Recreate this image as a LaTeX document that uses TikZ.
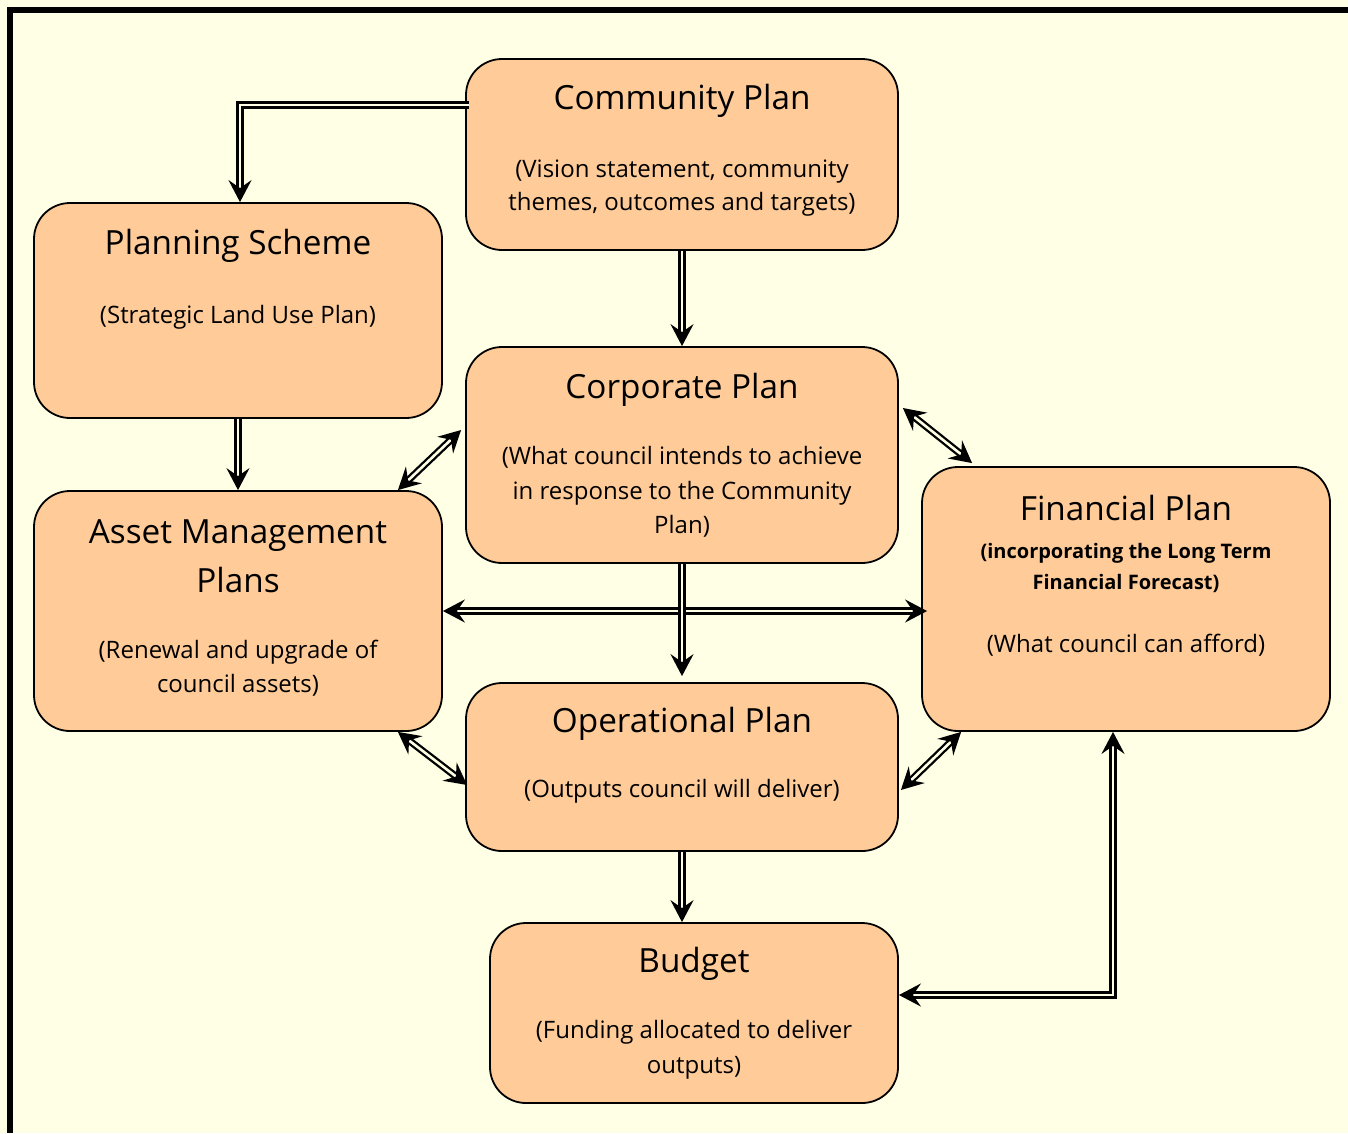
\documentclass[tikz,border=0pt]{standalone}
\usepackage{fontspec}
\setmainfont{Open Sans}
\usetikzlibrary{arrows.meta}
\definecolor{bgY}{RGB}{255,255,230}
\definecolor{boxF}{RGB}{255,204,153}
\begin{document}
\begin{tikzpicture}[x=1pt,y=-1pt,
  box/.style={draw=black,line width=1.8pt,fill=boxF,rounded corners=36pt,inner sep=0pt},
  ttl/.style={anchor=base,inner sep=0pt,font=\fontsize{33.3}{38}\selectfont},
  sub/.style={anchor=base,inner sep=0pt,font=\fontsize{24}{28}\selectfont},
  bsub/.style={anchor=base,inner sep=0pt,font=\fontsize{20}{24}\selectfont\bfseries},
  conn/.style={line width=2.3pt,double=bgY,double distance=2.6pt},
  tip/.style={-{Stealth[length=22pt,width=23pt,inset=8pt]}},
  tips/.style={{Stealth[length=22pt,width=23pt,inset=8pt]}-{Stealth[length=22pt,width=23pt,inset=8pt]}}
]
\fill[bgY] (0,0) rectangle (1348,1133);
\useasboundingbox (0,0) rectangle (1348,1133);
\draw[line width=6pt] (10,1133) -- (10,10) -- (1348,10);

% boxes
\node[box,minimum width=432pt,minimum height=191pt] (cp) at (682,154.5) {};
\node[box,minimum width=408pt,minimum height=215pt] (ps) at (238,310.5) {};
\node[box,minimum width=432pt,minimum height=216pt] (crp) at (682,455) {};
\node[box,minimum width=408pt,minimum height=240pt] (am) at (238,611) {};
\node[box,minimum width=408pt,minimum height=264pt] (fp) at (1126,599) {};
\node[box,minimum width=432pt,minimum height=168pt] (op) at (682,767) {};
\node[box,minimum width=408pt,minimum height=180pt] (bu) at (694,1013) {};

% texts
\node[ttl] (cpT) at (682,109) {Community Plan};
\node[sub] (cpS1) at (682,177) {(Vision statement, community};
\node[sub] (cpS2) at (682,210) {themes, outcomes and targets)};

\node[ttl] (psT) at (238,254) {Planning Scheme};
\node[sub] (psS1) at (238,323) {(Strategic Land Use Plan)};

\node[ttl] (crpT) at (682,398) {Corporate Plan};
\node[sub] (crpS1) at (682,464) {(What council intends to achieve};
\node[sub] (crpS2) at (682,499) {in response to the Community};
\node[sub] (crpS3) at (682,533) {Plan)};

\node[ttl] (amT1) at (238,543) {Asset Management};
\node[ttl] (amT2) at (238,592) {Plans};
\node[sub] (amS1) at (238,658) {(Renewal and upgrade of};
\node[sub] (amS2) at (238,692) {council assets)};

\node[ttl] (fpT) at (1126,520) {Financial Plan};
\node[bsub] (fpB1) at (1126,558) {(incorporating the Long Term};
\node[bsub] (fpB2) at (1126,589) {Financial Forecast)};
\node[sub] (fpS1) at (1126,652) {(What council can afford)};

\node[ttl] (opT) at (682,732) {Operational Plan};
\node[sub] (opS1) at (682,797) {(Outputs council will deliver)};

\node[ttl] (buT) at (694,972) {Budget};
\node[sub] (buS1) at (694,1038) {(Funding allocated to deliver};
\node[sub] (buS2) at (694,1073) {outputs)};

% connectors
\draw[conn,tip] ([yshift=49.5pt,xshift=4pt]cp.west) -| ([xshift=2pt]ps.north);
\draw[conn,tip] (cp.south) -- (crp.north);
\draw[conn,tip] (ps.south) -- (am.north);
\draw[conn,tips] ([xshift=-4pt,yshift=25pt]crp.west) -- ([xshift=-45pt]am.north east);
\draw[conn,tips] ([xshift=4pt,yshift=47pt]crp.east) -- ([xshift=51pt,yshift=3pt]fp.north west);
\draw[conn,tips] (am.east) -- ([xshift=6pt]am.east -| fp.west);
\draw[conn,tip] (crp.south) -- ([yshift=6pt]op.north);
\draw[conn,tips] ([xshift=-45pt]am.south east) -- ([xshift=2pt,yshift=-18pt]op.west);
\draw[conn,tips] ([xshift=2pt,yshift=-23pt]op.east) -- ([xshift=40pt]fp.south west);
\draw[conn,tip] (op.south) -- (op.south |- bu.north);
\draw[conn,tips] ([xshift=-13pt]fp.south) |- ([yshift=18pt]bu.east);
\end{tikzpicture}
\end{document}
